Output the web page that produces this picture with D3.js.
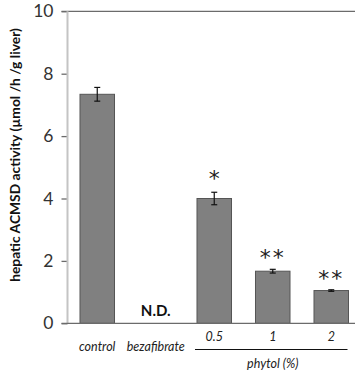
<!DOCTYPE html>
<html>
<head>
<meta charset="utf-8">
<script src="https://cdn.jsdelivr.net/npm/d3@7"></script>
<style>
  body { margin: 0; background: #fff; }
  svg { display: block; font-family: Lato, "Open Sans", sans-serif; }
</style>
</head>
<body>
<svg id="chart" width="355" height="372"></svg>
<script>
const groups = ["control", "bezafibrate", "0.5", "1", "2"];
const values = [7.34, null, 4.0, 1.67, 1.05];
const errors = [0.22, null, 0.2, 0.06, 0.025];
const marks = ["", "", "*", "**", "**"];
const yTicks = [0, 2, 4, 6, 8, 10];
const yTitle = "hepatic ACMSD activity (µmol /h /g liver)";
const groupLabel = "phytol (%)";

const svg = d3.select("#chart");
const x = d3.scaleBand().domain(groups).range([68, 360.5]).paddingInner(0.41).paddingOuter(0.205);
const y = d3.scaleLinear().domain([0, 10]).range([323.3, 11.3]);

// top frame line and ticks
svg.append("line")
  .attr("x1", 61.5).attr("x2", 355)
  .attr("y1", y(10)).attr("y2", y(10))
  .attr("stroke", "#6b6b6b").attr("stroke-width", 1.3);

const yAxis = svg.append("g")
  .attr("transform", "translate(67.5,0)")
  .call(d3.axisLeft(y).tickValues(yTicks).tickSize(6).tickPadding(8));
yAxis.select(".domain").remove();
yAxis.selectAll(".tick line").attr("stroke", "#6b6b6b").attr("stroke-width", 1.3);
yAxis.selectAll(".tick text")
  .attr("font-size", 17.5).attr("fill", "#333")
  .attr("font-family", "Lato, sans-serif");

// light vertical axis
svg.append("line")
  .attr("x1", 67.5).attr("x2", 67.5)
  .attr("y1", y(10)).attr("y2", y(0))
  .attr("stroke", "#c4c4c4").attr("stroke-width", 2);

const data = groups.map((g, i) => ({ g: g, v: values[i], e: errors[i], m: marks[i] }));
const withVal = data.filter(d => d.v != null);

svg.selectAll(".bar")
  .data(withVal)
  .enter()
  .append("rect")
  .attr("class", "bar")
  .attr("x", d => x(d.g))
  .attr("y", d => y(d.v))
  .attr("width", x.bandwidth())
  .attr("height", d => y(0) - y(d.v))
  .attr("fill", "#808080")
  .attr("stroke", "#555")
  .attr("stroke-width", 1);

// baseline
svg.append("line")
  .attr("x1", 61.5).attr("x2", 355)
  .attr("y1", y(0)).attr("y2", y(0))
  .attr("stroke", "#6b6b6b").attr("stroke-width", 1.3);

// error bars
const eb = svg.selectAll(".err")
  .data(withVal)
  .enter()
  .append("g")
  .attr("class", "err")
  .attr("stroke", "#111")
  .attr("stroke-width", 1.2);
eb.append("line")
  .attr("x1", d => x(d.g) + x.bandwidth() / 2)
  .attr("x2", d => x(d.g) + x.bandwidth() / 2)
  .attr("y1", d => y(d.v + d.e))
  .attr("y2", d => y(d.v - d.e));
eb.selectAll(".cap")
  .data(d => [d.v + d.e, d.v - d.e].map(v => ({ g: d.g, v: v })))
  .enter()
  .append("line")
  .attr("x1", d => x(d.g) + x.bandwidth() / 2 - 3)
  .attr("x2", d => x(d.g) + x.bandwidth() / 2 + 3)
  .attr("y1", d => y(d.v))
  .attr("y2", d => y(d.v));

// significance stars
svg.selectAll(".star")
  .data(withVal.filter(d => d.m))
  .enter()
  .append("text")
  .attr("x", d => x(d.g) + x.bandwidth() / 2)
  .attr("y", d => y(d.v + d.e) + (d.m.length > 1 ? -4 : -6))
  .attr("text-anchor", "middle")
  .attr("font-size", 22)
  .attr("letter-spacing", d => d.m.length > 1 ? 2 : 0)
  .attr("font-family", "DejaVu Sans, sans-serif")
  .attr("fill", "#222")
  .text(d => d.m);

// N.D.
data.filter(d => d.v == null).forEach(d => {
  svg.append("text")
    .attr("x", x(d.g) + x.bandwidth() / 2)
    .attr("y", 315.5)
    .attr("text-anchor", "middle")
    .attr("font-size", 15)
    .attr("font-weight", "bold")
    .attr("fill", "#111")
    .text("N.D.");
});

// category labels
svg.selectAll(".xlab")
  .data(groups)
  .enter()
  .append("text")
  .attr("class", "xlab")
  .attr("x", d => x(d) + x.bandwidth() / 2)
  .attr("y", (d, i) => i < 2 ? 350.5 : 341)
  .attr("text-anchor", "middle")
  .attr("font-size", 12.5)
  .attr("font-style", "italic")
  .attr("fill", "#222")
  .text(d => d);

const phytol = groups.slice(2);
svg.append("line")
  .attr("x1", x(phytol[0]) - 2)
  .attr("x2", x(phytol[phytol.length - 1]) + x.bandwidth() - 1)
  .attr("y1", 349.5).attr("y2", 349.5)
  .attr("stroke", "#111").attr("stroke-width", 1);
svg.append("text")
  .attr("x", x(phytol[1]) + x.bandwidth() / 2)
  .attr("y", 367.5)
  .attr("text-anchor", "middle")
  .attr("font-size", 12.5)
  .attr("font-style", "italic")
  .attr("fill", "#222")
  .text(groupLabel);

// y title
const title = svg.append("text")
  .attr("transform", "translate(19.5,155) rotate(-90)")
  .attr("text-anchor", "middle")
  .attr("font-size", 12.5)
  .attr("font-weight", "bold")
  .attr("fill", "#111")
  .text(yTitle);
const len = title.node().getComputedTextLength();
title.attr("font-size", 12.5 * 254 / len);
</script>
</body>
</html>
